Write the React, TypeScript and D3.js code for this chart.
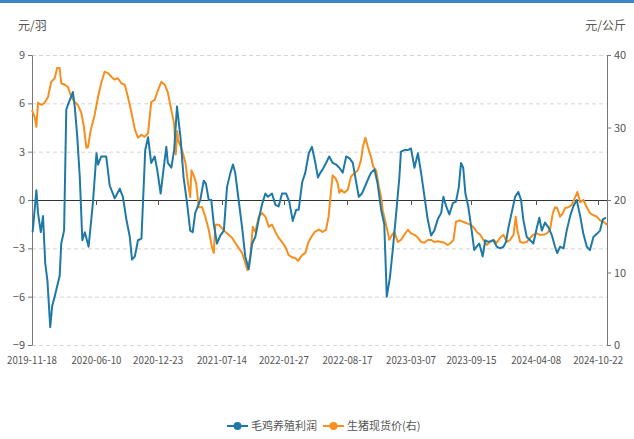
import React, { useEffect, useRef } from 'react'
import * as d3 from 'd3'

// day offsets from 2019-11-18 and values
const startDate = '2019-11-18'

const profitDays = [2, 14, 19, 28, 35, 42, 49, 58, 64, 72, 88, 93, 102, 109, 114, 130, 136, 144, 152, 160, 168, 180, 194, 205, 210, 220, 236, 247, 263, 279, 289, 300, 311, 318, 327, 337, 348, 360, 369, 379, 390, 398, 409, 417, 427, 432, 443, 452, 461,
  472, 482, 493, 503, 511, 519, 535, 546, 553, 562, 570, 578, 588, 599, 610, 620, 631, 639, 646, 657, 668, 678, 689, 700, 710, 721, 731, 742, 750, 763, 774, 784, 795, 808, 818, 829, 840, 848, 859, 869, 880, 890, 901, 909, 917,
  924, 935, 945, 956, 967, 977, 988, 999, 1009, 1020, 1028, 1039, 1049, 1060, 1071, 1078, 1089, 1099, 1110, 1120, 1128, 1138, 1147, 1158, 1168, 1173, 1184, 1195, 1205, 1216, 1227, 1237, 1248, 1258, 1269, 1279, 1290, 1301, 1308, 1317, 1327, 1338, 1348, 1357, 1364, 1371, 1378,
  1387, 1398, 1406, 1414, 1422, 1433, 1441, 1451, 1467, 1478, 1488, 1499, 1507, 1515, 1525, 1536, 1546, 1555, 1562, 1573, 1584, 1594, 1603, 1613, 1621, 1631, 1642, 1653, 1663, 1670, 1679, 1690, 1700, 1711, 1721, 1732, 1743, 1753, 1764, 1774, 1785, 1796, 1806, 1815, 1825]
const profitValues = [-2.0, 0.6, -0.8, -2.0, -1.0, -3.9, -5.0, -7.9, -6.6, -6.0, -4.7, -2.7, -1.9, 5.6, 5.9, 6.7, 5.8, 3.9, 1.4, -2.5, -2.0, -2.9, -0.1, 2.9, 2.2, 2.7, 2.7, 0.9, 0.1, 0.7, 0.2, -1.2, -2.3, -3.7, -3.5, -2.5, -2.4, 3.1, 3.9, 2.3, 2.7, 1.9, 0.4, 1.7, 3.3, 2.3, 2.0, 3.1, 5.8,
  3.9, 1.4, -0.2, -1.9, -2.0, -0.8, 0, 1.2, 1.0, 0, 0, -1.5, -2.7, -2.2, -1.9, 0.8, 1.7, 2.2, 1.7, 0, -1.7, -3.5, -4.3, -2.7, -2.3, -1.2, -0.3, 0.4, 0.2, 0.4, -0.3, -0.4, 0.4, 0.4, -0.1, -1.3, -0.6, -0.6, 1.1, 1.7, 2.9, 3.3, 2.3, 1.4, 1.7,
  1.9, 2.3, 2.7, 2.3, 2.2, 2.0, 1.7, 2.7, 2.6, 2.3, 1.4, 0.2, 0.4, 0.9, 1.4, 1.7, 1.9, 1.0, -0.6, -1.5, -6.0, -4.8, -3.1, -0.8, 1.4, 3.0, 3.1, 3.1, 3.2, 2.0, 2.9, 1.7, 0.2, -1.2, -2.2, -1.9, -1.2, -0.8, 0.2, -0.4, -0.9, -0.2, -0.1, 0.8, 2.3, 2.0, 0.4,
  -0.4, -1.9, -3.1, -2.9, -2.7, -3.5, -2.5, -2.6, -2.5, -2.9, -3.0, -2.9, -2.6, -1.7, -0.8, 0.2, 0.5, 0, -1.2, -2.3, -2.5, -2.7, -1.9, -1.1, -1.9, -1.4, -1.7, -2.2, -2.9, -3.3, -2.9, -3.0, -1.9, -1.0, -0.4, 0, -1.0, -2.1, -2.9, -3.1, -2.3, -2.1, -1.9, -1.2, -1.1]

const hogDays = [0, 9, 14, 19, 30, 40, 51, 61, 72, 80, 88, 93, 104, 114, 125, 136, 146, 157, 165, 173, 178, 187, 199, 210, 220, 231, 242, 252, 263, 273, 284, 295, 305, 316, 327, 337, 348, 358, 369, 379, 390, 401, 411, 422, 432, 443, 452, 457, 462,
  464, 477, 488, 496, 503, 507, 514, 522, 530, 541, 551, 562, 572, 578, 583, 594, 604, 615, 625, 636, 646, 657, 668, 678, 685, 694, 702, 710, 721, 731, 742, 753, 763, 774, 784, 795, 806, 816, 827, 837, 846, 859, 869, 878, 888, 899, 912,
  924, 935, 943, 951, 956, 965, 972, 977, 983, 993, 1004, 1014, 1025, 1036, 1046, 1052, 1060, 1068, 1078, 1085, 1094, 1103, 1110, 1115, 1120, 1131, 1136, 1145, 1152, 1163, 1173, 1184, 1195, 1205, 1216, 1227, 1237, 1248, 1258, 1269, 1279, 1290, 1301, 1311, 1322, 1332, 1340, 1348, 1359, 1370,
  1382, 1393, 1403, 1414, 1425, 1435, 1446, 1456, 1467, 1478, 1488, 1499, 1510, 1520, 1531, 1538, 1543, 1552, 1562, 1573, 1584, 1594, 1605, 1615, 1626, 1637, 1647, 1656, 1663, 1670, 1679, 1688, 1695, 1705, 1716, 1727, 1734, 1743, 1753, 1764, 1774, 1785, 1796, 1806, 1817, 1828]
const hogValues = [32.4, 31.4, 30.1, 33.4, 33.1, 33.4, 34.2, 36.3, 36.8, 38.2, 38.2, 36.1, 35.9, 35.6, 34.2, 33.5, 33.1, 32.0, 30.1, 27.2, 27.3, 29.7, 31.7, 34.2, 36.1, 37.7, 37.5, 37.0, 36.6, 36.8, 36.1, 35.9, 34.2, 32.1, 29.7, 28.6, 29.0, 28.7, 29.2, 33.5, 33.8, 35.2, 36.3, 35.9, 34.8, 32.4, 30.5, 26.3, 29.5,
  28.3, 26.9, 25.1, 22.3, 20.4, 24.1, 23.4, 22.3, 19.0, 19.0, 17.7, 15.9, 13.5, 12.7, 16.6, 16.6, 16.1, 15.6, 15.2, 14.8, 14.1, 13.4, 12.7, 11.3, 10.3, 12.1, 16.3, 15.6, 17.7, 18.2, 17.7, 16.3, 16.6, 15.6, 14.8, 14.2, 13.5, 12.4, 12.1, 12.0, 11.6, 12.4, 12.7, 14.1, 14.9, 15.6, 15.9,
  15.6, 15.9, 17.7, 21.4, 23.4, 23.0, 22.3, 21.0, 21.4, 21.0, 21.4, 23.2, 23.7, 24.1, 25.5, 27.3, 28.6, 27.3, 25.9, 24.6, 24.1, 21.8, 20.4, 18.6, 17.7, 15.6, 14.5, 15.2, 15.6, 14.2, 14.5, 15.2, 15.9, 15.4, 15.2, 14.8, 14.2, 14.1, 14.5, 14.5, 14.2, 14.3, 14.2, 14.1, 13.8, 14.1, 14.5, 17.0, 17.2, 17.0,
  16.8, 16.6, 16.3, 15.6, 15.2, 14.5, 13.8, 14.2, 14.5, 14.1, 14.8, 15.2, 14.2, 14.5, 15.2, 17.7, 15.9, 14.2, 14.1, 14.2, 14.8, 15.2, 15.4, 15.2, 15.2, 15.4, 15.9, 18.2, 19.0, 18.9, 17.7, 18.2, 18.9, 19.0, 19.3, 20.4, 21.1, 19.7, 20.0, 19.0, 18.2, 17.9, 17.7, 17.2, 17.0, 16.6]

const xTickLabels = ['2019-11-18', '2020-06-10', '2020-12-23', '2021-07-14', '2022-01-27', '2022-08-17', '2023-03-07', '2023-09-15', '2024-04-08', '2024-10-22']
const leftTicks = [9, 6, 3, 0, -3, -6, -9]
const rightTicks = [40, 30, 20, 10, 0]
const seriesNames = ['毛鸡养殖利润', '生猪现货价(右)']
const seriesColors = ['#1f79a7', '#f5901f']

const W = 634
const H = 439
const font = '"Noto Sans CJK SC", "Noto Sans", sans-serif'

export default function App() {
  const ref = useRef<SVGSVGElement>(null)

  useEffect(() => {
    const svg = d3.select(ref.current)
    svg.selectAll('*').remove()

    const parse = d3.timeParse('%Y-%m-%d')
    const t0 = parse(startDate) as Date
    const left = 32, right = 607, top = 55, bottom = 345

    const x = d3.scaleTime()
      .domain([t0, d3.timeDay.offset(t0, 1825)])
      .range([left, right - 1])
    const yL = d3.scaleLinear().domain([-9, 9]).range([bottom, top])
    const yR = d3.scaleLinear().domain([0, 40]).range([bottom, top])

    // top blue strip
    svg.append('rect').attr('x', 0).attr('y', 0).attr('width', W).attr('height', 3).attr('fill', '#3a86c6')

    // unit titles
    svg.append('text').attr('x', 18).attr('y', 30).text('元/羽')
      .attr('font-size', 12).attr('fill', '#555').attr('font-family', font)
    svg.append('text').attr('x', 626).attr('y', 30).attr('text-anchor', 'end').text('元/公斤')
      .attr('font-size', 12).attr('fill', '#555').attr('font-family', font)

    // grid
    svg.append('g').selectAll('line').data(leftTicks.filter(d => d !== 0)).enter().append('line')
      .attr('x1', left).attr('x2', right)
      .attr('y1', d => yL(d) + 0.5).attr('y2', d => yL(d) + 0.5)
      .attr('stroke', '#d4d4d4').attr('stroke-dasharray', '4,3')

    // left axis
    const gl = svg.append('g').attr('transform', `translate(${left},0)`)
      .call(d3.axisLeft(yL).tickValues(leftTicks).tickSize(4).tickSizeOuter(0).tickFormat(d3.format('d')))
    gl.select('.domain').attr('stroke', '#777')
    gl.selectAll('.tick line').attr('stroke', '#777')
    gl.selectAll('text').attr('font-size', 11).attr('fill', '#555').attr('font-family', font)

    // right axis
    const gr = svg.append('g').attr('transform', `translate(${right},0)`)
      .call(d3.axisRight(yR).tickValues(rightTicks).tickSize(4).tickSizeOuter(0))
    gr.select('.domain').attr('stroke', '#777')
    gr.selectAll('.tick line').attr('stroke', '#777')
    gr.selectAll('text').attr('font-size', 11).attr('fill', '#555').attr('font-family', font)

    // zero line with date ticks
    const xDates = xTickLabels.map(s => parse(s) as Date)
    svg.append('line').attr('x1', left).attr('x2', right)
      .attr('y1', yL(0) + 0.5).attr('y2', yL(0) + 0.5).attr('stroke', '#333').attr('stroke-width', 1)
    svg.append('g').selectAll('line').data(xDates.slice(1)).enter().append('line')
      .attr('x1', d => Math.round(x(d)) + 0.5).attr('x2', d => Math.round(x(d)) + 0.5)
      .attr('y1', yL(0)).attr('y2', yL(0) + 5).attr('stroke', '#555')

    // bottom labels
    svg.append('g').selectAll('text').data(xDates).enter().append('text')
      .attr('x', d => x(d)).attr('y', 364).attr('text-anchor', 'middle')
      .attr('font-size', 11).attr('fill', '#555').attr('font-family', font)
      .attr('textLength', 50).attr('lengthAdjust', 'spacingAndGlyphs')
      .text((d, i) => xTickLabels[i])

    // series
    const profit = profitDays.map((d, i) => ({ t: d3.timeDay.offset(t0, d), v: profitValues[i] }))
    const hog = hogDays.map((d, i) => ({ t: d3.timeDay.offset(t0, d), v: hogValues[i] }))

    svg.append('path').datum(hog)
      .attr('fill', 'none').attr('stroke', seriesColors[1]).attr('stroke-width', 2)
      .attr('stroke-linejoin', 'round')
      .attr('d', d3.line<any>().x(d => x(d.t)).y(d => yR(d.v)))
    svg.append('path').datum(profit)
      .attr('fill', 'none').attr('stroke', seriesColors[0]).attr('stroke-width', 2)
      .attr('stroke-linejoin', 'round')
      .attr('d', d3.line<any>().x(d => x(d.t)).y(d => yL(d.v)))

    // legend
    const legendX = [227, 323]
    const lg = svg.append('g')
    seriesNames.forEach((name, i) => {
      const g = lg.append('g').attr('transform', `translate(${legendX[i]},426)`)
      g.append('line').attr('x1', 0).attr('x2', 21).attr('y1', 0).attr('y2', 0)
        .attr('stroke', seriesColors[i]).attr('stroke-width', 2)
      g.append('circle').attr('cx', 10.5).attr('cy', 0).attr('r', 4).attr('fill', seriesColors[i])
      g.append('text').attr('x', 24).attr('y', 4).text(name)
        .attr('font-size', 11).attr('fill', '#555').attr('font-family', font)
    })
  }, [])

  return (
    <div style={{ position: 'absolute', left: 0, top: 0, width: W, height: H, background: '#fff' }}>
      <svg ref={ref} width={W} height={H} style={{ display: 'block' }} />
    </div>
  )
}
